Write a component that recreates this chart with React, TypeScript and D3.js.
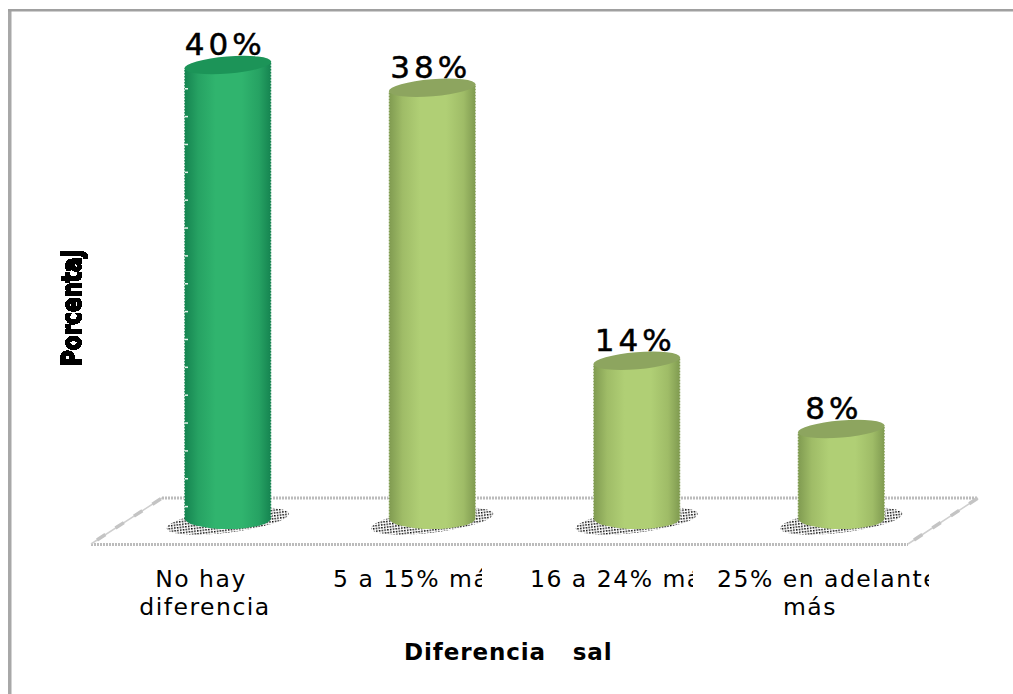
import React, { useMemo } from "react";
import * as d3 from "d3";

const categories = ["No hay|diferencia", "5 a 15% más", "16 a 24% más", "25% en adelante|más"];
const values = [40, 38, 14, 8];
const barColors = ["green", "olive", "olive", "olive"];
const axisTitleX = "Diferencia   sal";
const axisTitleY = "Porcentaj";
const labelFont = "'DejaVu Sans', Verdana, sans-serif";

const palette: Record<string, { edge: string; shade: string; mid: string; top: string }> = {
  green: { edge: "#158350", shade: "#26a263", mid: "#30b46e", top: "#1c9458" },
  olive: { edge: "#7f9a50", shade: "#9fbc67", mid: "#b0cf75", top: "#8da55f" },
};

// Hand-placed category labels: the long ones are cut off at the slot's right edge.
const labelLayout = [
  { lines: [{ x: 201, anchor: "middle" }, { x: 205, anchor: "middle" }], clip: null },
  { lines: [{ x: 333, anchor: "start" }], clip: [325, 482] },
  { lines: [{ x: 530, anchor: "start" }], clip: [522, 693] },
  { lines: [{ x: 717, anchor: "start" }, { x: 810, anchor: "middle" }], clip: [710, 929] },
];

// Value labels sit a little left of each bar's centre.
const valueLabelShift = [-43, -42, -42, -36];

export default function App() {
  const x = useMemo(
    () => d3.scaleBand<number>().domain(d3.range(categories.length)).range([125.5, 943.5]),
    [],
  );
  const y = useMemo(() => d3.scaleLinear().domain([0, 40]).range([520, 65]), []);
  const tickY = useMemo(() => d3.scaleLinear().domain([0, 14]).range([478, 88]), []);
  const rx = 43.5;
  const ry = 8.5;
  const tilt = 3.5;

  return (
    <svg
      width={1013}
      height={694}
      style={{ position: "absolute", left: 0, top: 0, background: "#fff" }}
    >
      <defs>
        {Object.entries(palette).map(([k, c]) => (
          <linearGradient key={k} id={`cyl-${k}`} x1="0" x2="1" y1="0" y2="0">
            <stop offset="0" stopColor={c.edge} />
            <stop offset="0.16" stopColor={c.shade} />
            <stop offset="0.36" stopColor={c.mid} />
            <stop offset="0.66" stopColor={c.mid} />
            <stop offset="0.86" stopColor={c.shade} />
            <stop offset="1" stopColor={c.edge} />
          </linearGradient>
        ))}
        <pattern id="speck" width="2.8" height="2.8" patternUnits="userSpaceOnUse">
          <rect width="1.5" height="1.5" fill="#000" />
        </pattern>
        {/* hard-edged text for the vertical axis title */}
        <filter id="aliased" x="-10%" y="-10%" width="120%" height="120%">
          <feComponentTransfer>
            <feFuncA type="discrete" tableValues="0 1 1" />
          </feComponentTransfer>
        </filter>
      </defs>

      {/* chart frame: only the top and left edges are in view */}
      <rect x={8} y={9} width={3.5} height={685} fill="#a8a8a8" />
      <rect x={8} y={9} width={1005} height={2.5} fill="#a0a0a0" />

      {/* floor of the 3D plot */}
      <path d="M91 544.5H908M162 498H978" fill="none" stroke="#bcbcbc" strokeWidth={3} strokeDasharray="2 1" />
      <path d="M91 544L162 498M908 544L978 498" fill="none" stroke="#cfcfcf" strokeWidth={1.5} />
      <path d="M97 540L162 498M914 540L978 498" fill="none" stroke="#c4c4c4" strokeWidth={3.5} strokeDasharray="10 12" />

      {values.map((v, i) => {
        const cx = (x(i) as number) + x.bandwidth() / 2;
        const top = y(v);
        const base = y(0) - 2;
        const c = palette[barColors[i]];
        const angle = (Math.atan2(-2 * tilt, 2 * rx) * 180) / Math.PI;
        return (
          <g key={i}>
            <ellipse
              cx={cx}
              cy={base + 3}
              rx={rx + 18}
              ry={ry + 3}
              fill="url(#speck)"
              transform={`rotate(-7 ${cx} ${base + 3})`}
            />
            <path
              d={`M${cx - rx} ${top + tilt}L${cx - rx} ${base}A${rx} ${ry + 2.5} 0 0 0 ${cx + rx} ${base}L${cx + rx} ${top - tilt}Z`}
              fill={`url(#cyl-${barColors[i]})`}
            />
            <path
              d={`M${cx - rx} ${top + tilt}V${base}M${cx + rx} ${top - tilt}V${base}`}
              stroke="#fff"
              strokeOpacity={0.75}
              strokeWidth={1.5}
              strokeDasharray="1.5 1.5"
              fill="none"
            />
            <ellipse
              cx={cx}
              cy={top}
              rx={rx}
              ry={ry}
              fill={c.top}
              transform={`rotate(${angle} ${cx} ${top})`}
            />
            <text
              x={cx + valueLabelShift[i]}
              y={top - 10}
              fontFamily={labelFont}
              fontSize={31}
              letterSpacing={4}
              stroke="#000"
              strokeWidth={0.5}
              fill="#000"
            >
              {v}%
            </text>
          </g>
        );
      })}

      {/* gridline stubs showing through on the first bar's left edge */}
      {d3.range(-1, 15).map((n) => (
        <rect key={n} x={185} y={tickY(n)} width={3} height={1.5} fill="#e4f3ea" />
      ))}

      {categories.map((label, i) => {
        const layout = labelLayout[i];
        return (
          <g key={label}>
            {layout.clip && (
              <clipPath id={`cat-${i}`}>
                <rect x={layout.clip[0]} y={560} width={layout.clip[1] - layout.clip[0]} height={70} />
              </clipPath>
            )}
            <g clipPath={layout.clip ? `url(#cat-${i})` : undefined}>
              {label.split("|").map((line, j) => (
                <text
                  key={j}
                  x={layout.lines[j].x}
                  y={587 + j * 28}
                  textAnchor={layout.lines[j].anchor}
                  fontFamily={labelFont}
                  fontSize={23.5}
                  letterSpacing={1.5}
                  fill="#000"
                >
                  {line}
                </text>
              ))}
            </g>
          </g>
        );
      })}

      <text
        x={404}
        y={660}
        fontFamily={labelFont}
        fontSize={23}
        fontWeight={700}
        letterSpacing={0.9}
        style={{ whiteSpace: "pre" }}
      >
        {axisTitleX}
      </text>
      <g filter="url(#aliased)">
        <text
          transform="translate(81 366) rotate(-90)"
          fontFamily={labelFont}
          fontSize={27}
          fontWeight={700}
          stroke="#000"
          strokeWidth={1.6}
          textLength={116}
          lengthAdjust="spacingAndGlyphs"
        >
          {axisTitleY}
        </text>
      </g>
    </svg>
  );
}
